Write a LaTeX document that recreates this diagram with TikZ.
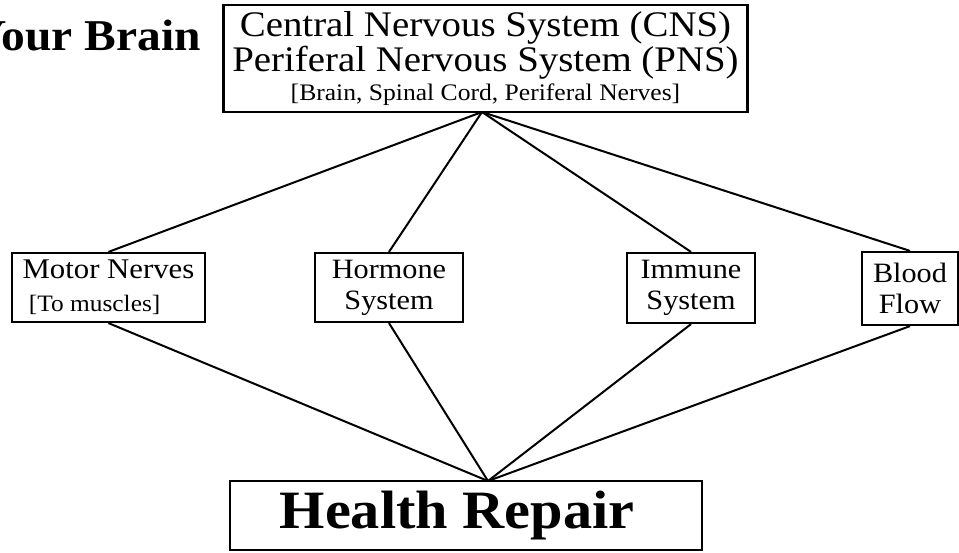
\documentclass[tikz,border=0pt]{standalone}
\usepackage{fontspec}
\setmainfont{Liberation Serif}[FakeStretch=1.08]
\tikzset{box/.style={draw,line width=2.2pt,inner sep=0pt,align=center}}
\begin{document}
\begin{tikzpicture}[x=1pt,y=-1pt,line width=2pt]
\useasboundingbox (0,0) rectangle (959,552);
\node[anchor=base east,font=\bfseries\fontsize{44}{44}\selectfont] (title) at (205,50) {Your Brain};
\node[box,minimum width=524,minimum height=107,font=\fontsize{36}{35}\selectfont] (cns) at (485.5,58.5)
  {Central Nervous System (CNS)\\Periferal Nervous System (PNS)\\[-6pt]{\fontsize{23.7}{28}\selectfont [Brain, Spinal Cord, Periferal Nerves]}};
\node[box,minimum width=193,minimum height=69,align=left,font=\fontsize{28.5}{33}\selectfont] (motor) at (108.5,287.5)
  {Motor Nerves\\ {\fontsize{23.5}{33}\selectfont\ [To muscles]}};
\node[box,minimum width=148,minimum height=69,font=\fontsize{28}{31}\selectfont] (hormone) at (389,287.5) {Hormone\\System};
\node[box,minimum width=128,minimum height=70,font=\fontsize{28}{31}\selectfont] (immune) at (691,288) {Immune\\System};
\node[box,minimum width=96,minimum height=73,font=\fontsize{28}{31}\selectfont] (blood) at (910,288.5) {Blood\\Flow};
\node[box,minimum width=472,minimum height=69,font=\bfseries\fontsize{54}{54}\selectfont] (health) at (466,515.5) {Health Repair\hspace*{18pt}};
\coordinate (hubtop) at (482,112);
\coordinate (hubbot) at (488,481);
\foreach \n in {motor,hormone,immune,blood}{
  \draw (hubtop) -- (\n.north);
  \draw (\n.south) -- (hubbot);
}
\end{tikzpicture}
\end{document}
